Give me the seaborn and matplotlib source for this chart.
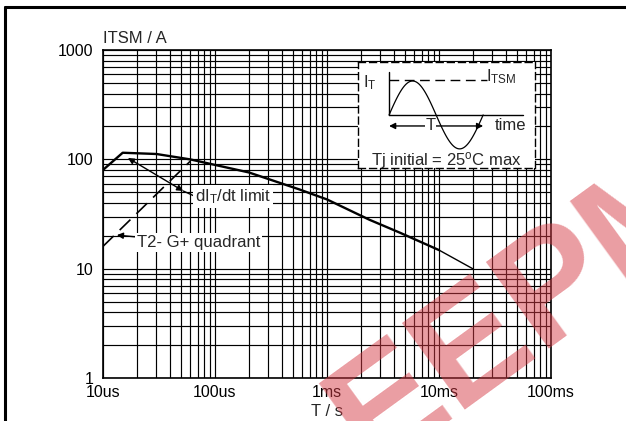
import numpy as np
import matplotlib
matplotlib.use("Agg")
import matplotlib.pyplot as plt
import seaborn as sns
from matplotlib.lines import Line2D
from matplotlib.ticker import FixedLocator, LogLocator, NullFormatter

# surge current curve
curve_t = [1e-5, 1.5e-5, 3e-5, 6e-5, 1e-4, 2e-4, 5.7e-4, 1e-3, 2.4e-3, 4.5e-3, 1e-2]
curve_i = [80, 115, 112, 100, 89, 76, 53, 43, 28, 21.3, 14.8]
tail_t = [1e-2, 2e-2]
tail_i = [14.8, 10]

# T2- G+ quadrant (dashed)
quad_t = [1e-5, 6e-5]
quad_i = [16, 96]

x_ticks = [1e-5, 1e-4, 1e-3, 1e-2, 1e-1]
x_labels = ["10us", "100us", "1ms", "10ms", "100ms"]
y_ticks = [1, 10, 100, 1000]
y_labels = ["1", "10", "100", "1000"]

sns.set_style("white")
plt.rcParams["font.family"] = ["Liberation Sans", "DejaVu Sans"]
plt.rcParams["mathtext.fontset"] = "custom"
plt.rcParams["mathtext.rm"] = "Liberation Sans"
plt.rcParams["mathtext.it"] = "Liberation Sans"

FS = 12

fig = plt.figure(figsize=(6.26, 4.21), dpi=100)
ax = fig.add_axes([0.1645, 0.1021, 0.7157, 0.779])

ax.set_xscale("log")
ax.set_yscale("log")
ax.set_xlim(1e-5, 1e-1)
ax.set_ylim(1, 1000)

#grid
ax.xaxis.set_major_locator(FixedLocator(x_ticks))
ax.yaxis.set_major_locator(FixedLocator(y_ticks))
ax.xaxis.set_minor_locator(LogLocator(base=10, subs=np.arange(2, 10)))
ax.yaxis.set_minor_locator(LogLocator(base=10, subs=np.arange(2, 10)))
ax.xaxis.set_minor_formatter(NullFormatter())
ax.yaxis.set_minor_formatter(NullFormatter())
ax.set_xticklabels(x_labels)
ax.set_yticklabels(y_labels)
ax.grid(which="both", color="black", linewidth=0.85)
ax.tick_params(which="both", length=0, labelsize=11.5, colors="black")
ax.tick_params(axis="y", pad=7)
ax.tick_params(axis="x", pad=5)
for s in ax.spines.values():
    s.set_color("black")
    s.set_linewidth(1.2)

#curves
sns.lineplot(x=curve_t, y=curve_i, ax=ax, color="black", linewidth=1.7, zorder=3)
sns.lineplot(x=tail_t, y=tail_i, ax=ax, color="black", linewidth=1.0, zorder=3)
sns.lineplot(x=quad_t, y=quad_i, ax=ax, color="black", linewidth=1.2, zorder=3,
             linestyle=(0, (9, 5)))

#annotations
ax.annotate("", xy=(1.67e-5, 103), xytext=(5.2e-5, 51.4),
            arrowprops=dict(arrowstyle="<|-|>", color="black", lw=1.0,
                            mutation_scale=9, shrinkA=0, shrinkB=0), zorder=4)
ax.plot([5.2e-5, 6.6e-5], [51.4, 46], color="black", lw=1.0, zorder=4)
ax.text(6.6e-5, 46, r"dI$_{\mathregular{T}}$/dt limit", fontsize=FS, va="center", ha="left",
        bbox=dict(facecolor="white", edgecolor="none", pad=1.5), zorder=5)
ax.annotate("T2- G+ quadrant", xy=(1.33e-5, 20.3), xytext=(2.0e-5, 17.2),
            fontsize=FS, va="center", ha="left",
            bbox=dict(facecolor="white", edgecolor="none", pad=1.5),
            arrowprops=dict(arrowstyle="-|>", color="black", lw=1.0,
                            mutation_scale=9, shrinkA=0, shrinkB=0), zorder=5)

ax.text(0, 1.012, "ITSM / A", transform=ax.transAxes, fontsize=FS, ha="left", va="bottom")
ax.set_xlabel("T / s", fontsize=FS, labelpad=3)
ax.set_ylabel("")

#inset with the pulse sketch
ins = fig.add_axes([0.572, 0.601, 0.283, 0.252])
ins.set_xlim(0, 1)
ins.set_ylim(0, 1)
ins.set_xticks([])
ins.set_yticks([])
ins.set_facecolor("white")
for s in ins.spines.values():
    s.set_linestyle((0, (5, 3)))
    s.set_color("black")
    s.set_linewidth(1.0)
ins.plot([0.175, 0.175], [0.5, 0.906], color="black", lw=1.0)
ins.plot([0.175, 0.932], [0.5, 0.5], color="black", lw=1.0)
ins.plot([0.175, 0.73], [0.83, 0.83], color="black", lw=1.0, linestyle=(0, (7, 4)))
ph = np.linspace(0, 2 * np.pi, 100)
ins.plot(0.175 + (0.706 - 0.175) * ph / (2 * np.pi), 0.5 + 0.32 * np.sin(ph), color="black", lw=0.9)
ins.annotate("", xy=(0.175, 0.396), xytext=(0.706, 0.396),
             arrowprops=dict(arrowstyle="<|-|>", color="black", lw=1.0,
                             mutation_scale=9, shrinkA=0, shrinkB=0))
ins.text(0.41, 0.396, "T", fontsize=FS, ha="center", va="center",
         bbox=dict(facecolor="white", edgecolor="none", pad=0.5))
ins.text(0.77, 0.40, "time", fontsize=FS, ha="left", va="center")
ins.text(0.03, 0.80, r"I$_{\mathregular{T}}$", fontsize=FS, ha="left", va="center")
ins.text(0.72, 0.86, r"I$_{\mathregular{TSM}}$", fontsize=FS, ha="left", va="center")
ins.text(0.5, 0.075, r"Tj initial = 25$^{\mathregular{o}}$C max", fontsize=FS, ha="center", va="center")

#outer frame
fig.add_artist(Line2D([5 / 626, 1], [1 - 7 / 421, 1 - 7 / 421], color="black", lw=2.2))
fig.add_artist(Line2D([5 / 626, 5 / 626], [0, 1 - 7 / 421], color="black", lw=2.2))

#watermark
fig.text(0.84, 0.27, "EEPM", fontsize=112, fontweight="heavy",
         color="#d63c46", alpha=0.5, rotation=36, ha="center", va="center", zorder=10)

fig.savefig("out.png", dpi=100)
